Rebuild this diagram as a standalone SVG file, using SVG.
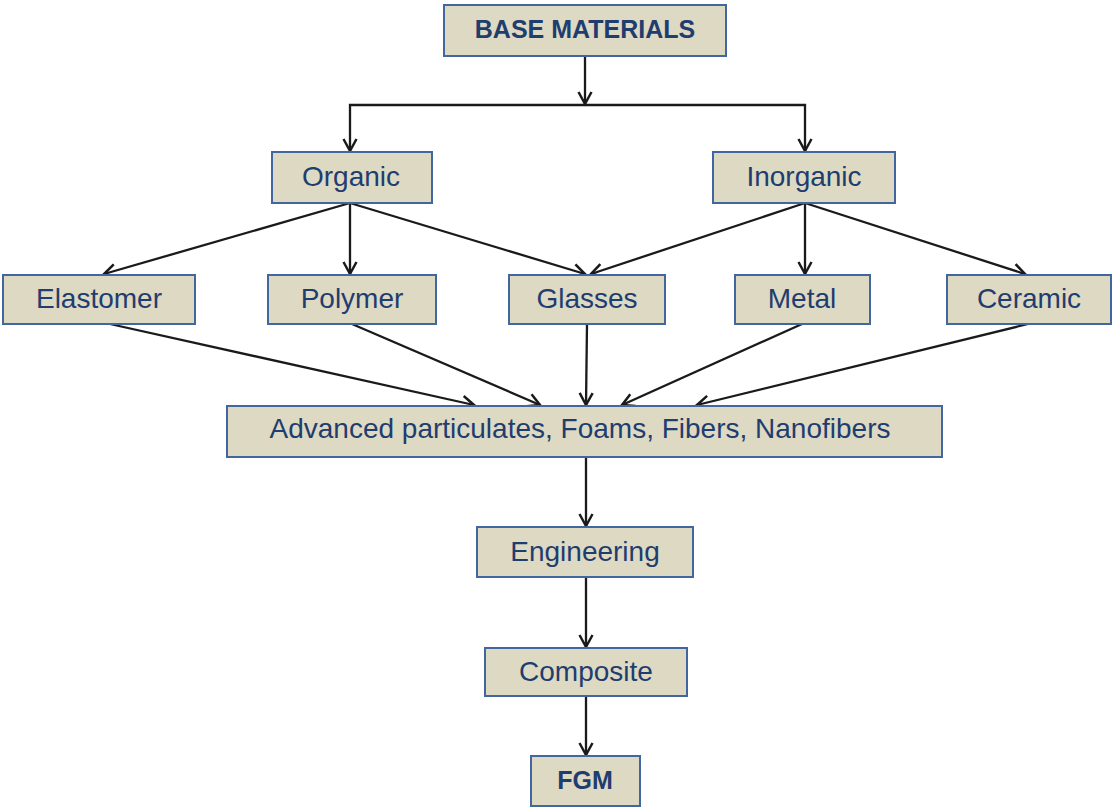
<svg xmlns="http://www.w3.org/2000/svg" width="1113" height="808" viewBox="0 0 1113 808">
<style>
.box{fill:#ddd9c3;stroke:#4166a0;stroke-width:2}
.t{font-family:"Liberation Sans",Arial,sans-serif;font-size:28px;fill:#1f3d6e;text-anchor:middle}
.b{font-weight:bold;font-size:25px}
.c{fill:none;stroke:#1a1a1a;stroke-width:2.3;marker-end:url(#ah)}
</style>
<defs>
<marker id="ah" markerUnits="userSpaceOnUse" markerWidth="16" markerHeight="16" refX="13" refY="8" orient="auto">
<path d="M1,1.5 L13,8 L1,14.5" fill="none" stroke="#1a1a1a" stroke-width="2.5"/>
</marker>
</defs>
<rect width="1113" height="808" fill="#ffffff"/>
<g id="connectors">
<path class="c" d="M585,56 V104"/>
<path class="c" d="M585,105 H350 V151"/>
<path class="c" d="M585,105 H805 V151"/>
<path class="c" d="M350,203 L104,274"/>
<path class="c" d="M350,203 L350,274"/>
<path class="c" d="M350,203 L585,274"/>
<path class="c" d="M805,203 L591,274"/>
<path class="c" d="M805,203 L805,274"/>
<path class="c" d="M805,203 L1025,274"/>
<path class="c" d="M110,324 L474,405"/>
<path class="c" d="M352,324 L540,405"/>
<path class="c" d="M587,324 L586,405"/>
<path class="c" d="M802,324 L622,405"/>
<path class="c" d="M1028,324 L697,405"/>
<path class="c" d="M586,457 V526"/>
<path class="c" d="M586,577 V647"/>
<path class="c" d="M586,696 V755"/>
</g>
<g id="base"><rect class="box" x="444" y="5" width="282" height="51"/><text class="t b" x="585" y="38">BASE MATERIALS</text></g>
<g id="organic"><rect class="box" x="272" y="152" width="160" height="51"/><text class="t" x="351" y="186">Organic</text></g>
<g id="inorganic"><rect class="box" x="713" y="152" width="182" height="51"/><text class="t" x="804" y="186">Inorganic</text></g>
<g id="elastomer"><rect class="box" x="3" y="275" width="192" height="49"/><text class="t" x="99" y="308">Elastomer</text></g>
<g id="polymer"><rect class="box" x="268" y="275" width="168" height="49"/><text class="t" x="352" y="308">Polymer</text></g>
<g id="glasses"><rect class="box" x="509" y="275" width="156" height="49"/><text class="t" x="587" y="308">Glasses</text></g>
<g id="metal"><rect class="box" x="735" y="275" width="135" height="49"/><text class="t" x="802" y="308">Metal</text></g>
<g id="ceramic"><rect class="box" x="947" y="275" width="164" height="49"/><text class="t" x="1029" y="308">Ceramic</text></g>
<g id="advanced"><rect class="box" x="227" y="406" width="715" height="51"/><text class="t" x="580" y="438">Advanced particulates, Foams, Fibers, Nanofibers</text></g>
<g id="engineering"><rect class="box" x="477" y="527" width="216" height="50"/><text class="t" x="585" y="561">Engineering</text></g>
<g id="composite"><rect class="box" x="485" y="648" width="202" height="48"/><text class="t" x="586" y="681">Composite</text></g>
<g id="fgm"><rect class="box" x="531" y="756" width="109" height="50"/><text class="t b" x="585" y="789">FGM</text></g>
</svg>
